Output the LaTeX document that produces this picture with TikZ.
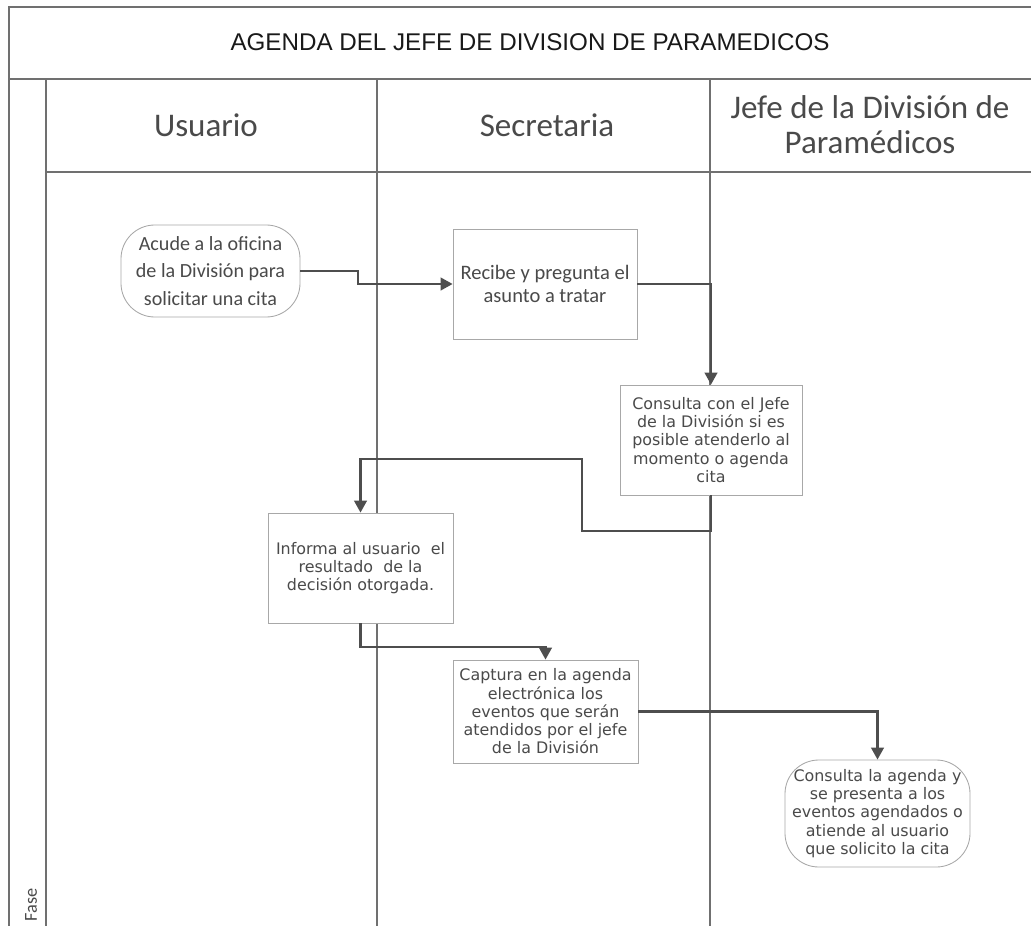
\documentclass[tikz,border=0pt]{standalone}
\usepackage{fontspec}
\setmainfont{Carlito}
\newfontfamily\verdanafont{DejaVu Sans}
\newfontfamily\arialfont{Liberation Sans}
\usepackage{tikz}
\usetikzlibrary{
  positioning,
  calc,
  arrows.meta
}
\definecolor{lineGray}{HTML}{4E4E4E}
\definecolor{frameGray}{HTML}{707070}
\definecolor{boxGray}{HTML}{A8A8A8}
\definecolor{textGray}{HTML}{4A4A4A}
\tikzstyle{flow}=[-{Triangle[length=8.5pt, width=9pt]}, lineGray, line width=1.5pt]
\tikzstyle{frame}=[frameGray, line width=0.9pt]
\tikzstyle{proc}=[draw=boxGray, line width=0.6pt, fill=white, align=center, text=textGray, inner sep=0pt]
\tikzstyle{term}=[proc, rounded corners=24pt]
\tikzstyle{vfont}=[font=\verdanafont\fontsize{11.3}{13}\selectfont]
\tikzstyle{lanehead}=[text=textGray, align=center, font=\fontsize{23.5}{25}\selectfont]
\tikzset{wh/.style 2 args={minimum width=#1*0.025cm, minimum height=#2*0.025cm}}

\begin{document}
\begin{tikzpicture}[x=0.025cm, y=-0.025cm]
      \def\xL{9};
      \def\xF{46};
      \def\xA{377};
      \def\xB{710};
      \def\xR{1031};
      \def\yT{7};
      \def\yH{79};
      \def\yS{172};
      \def\yB{926};

      \useasboundingbox (0,0) rectangle (\xR,\yB);

      % 枠
      \draw[frame] (\xR,\yT) -- (\xL,\yT) -- (\xL,\yB);
      \draw[frame] (\xL,\yH) -- (\xR,\yH);
      \draw[frame] (\xF,\yH) -- (\xF,\yB);
      \draw[frame] (\xF,\yS) -- (\xR,\yS);
      \draw[frame] (\xA,\yH) -- (\xA,\yB);
      \draw[frame] (\xB,\yH) -- (\xB,\yB);

      % タイトルと列見出し
      \node[font=\arialfont\fontsize{17.2}{20}\selectfont, text=black!90] (titulo) at (530,42) {AGENDA DEL JEFE DE DIVISION DE PARAMEDICOS};
      \node[lanehead] (usuario) at (206,125) {Usuario};
      \node[lanehead] (secretaria) at (547,125) {Secretaria};
      \node[lanehead] (jefe) at (870,125) {Jefe de la División de\\Paramédicos};
      \node[rotate=90, text=textGray, font=\fontsize{13}{15}\selectfont] (fase) at (31,905) {Fase};

      % 手順
      \node[term, wh={179}{92}, font=\fontsize{14.3}{19.5}\selectfont] (acude) at (210.5,271) {Acude a la oficina\\de la División para\\solicitar una cita};
      \node[proc, wh={184}{110}, font=\fontsize{14.6}{16.5}\selectfont] (recibe) at (545,284) {Recibe y pregunta el\\asunto a tratar};
      \node[proc, wh={182}{110}, vfont] (consulta) at (711,440) {Consulta con el Jefe\\de la División si es\\posible atenderlo al\\momento o agenda\\cita};
      \node[proc, wh={185}{110}, vfont] (informa) at (360.5,568) {Informa al usuario\ \ el\\resultado\ \ de la\\decisión otorgada.};
      \node[proc, wh={185}{103}, vfont] (captura) at (545.5,711.5) {Captura en la agenda\\electrónica los\\eventos que serán\\atendidos por el jefe\\de la División};
      \node[term, wh={185}{107}, vfont] (agenda) at (877.5,813.5) {Consulta la agenda y\\se presenta a los\\eventos agendados o\\atiende al usuario\\que solicito la cita};

      % 折れ点
      \coordinate (k1) at (582,531);
      \coordinate (k2) at (582,459);

      % 矢印
      \draw[flow] (acude.east) -- ++(58,0) |- (recibe.west);
      \draw[flow] (recibe.east) -| (consulta.north);
      \draw[flow] (consulta.south) |- (k1) -- (k2) -| (informa.north);
      \draw[flow] (informa.south) -- ++(0,24) -| (captura.north);
      \draw[flow] (captura.east) -| (agenda.north);
    \end{tikzpicture}
\end{document}
